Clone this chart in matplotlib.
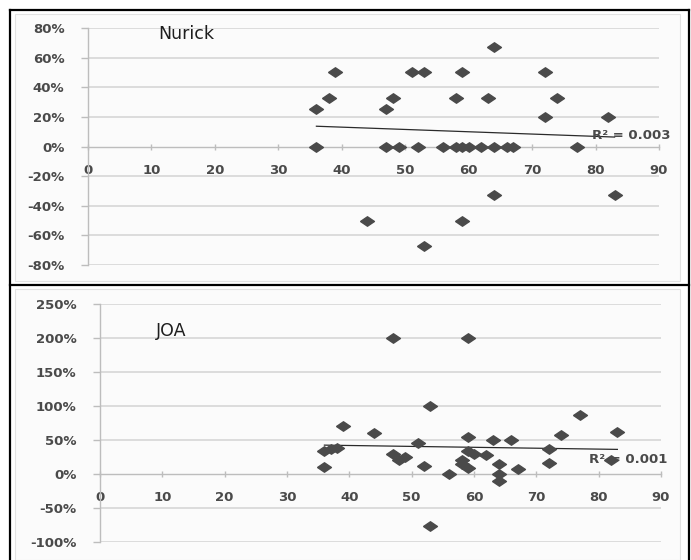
import numpy as np
import matplotlib
matplotlib.use("Agg")
import matplotlib.pyplot as plt
from matplotlib.lines import Line2D
from matplotlib.patches import Rectangle

# ---- data ----
nurick_x = [36, 38, 39, 36, 47, 48, 51, 53, 59, 58, 63, 64, 72, 72, 74, 82,
            47, 49, 52, 56, 58, 59, 60, 62, 64, 66, 67, 77,
            64, 83, 44, 59, 53]
nurick_y = [25, 33, 50, 0, 25, 33, 50, 50, 50, 33, 33, 67, 50, 20, 33, 20,
            0, 0, 0, 0, 0, 0, 0, 0, 0, 0, 0, 0,
            -33, -33, -50, -50, -67]
joa_x = [47, 59, 53, 39, 44, 77, 83, 74, 59, 63, 66, 51,
         36, 37, 38, 36, 47, 48, 49, 52, 56, 58, 58, 59,
         59, 60, 62, 64, 64, 64, 67, 72, 72, 82, 53]
joa_y = [200, 200, 100, 71, 60, 86, 62, 57, 54, 50, 50, 45,
         33, 37, 38, 10, 29, 20, 25, 11, 0, 20, 14, 8,
         33, 29, 27, 15, 0, -10, 7, 37, 16, 20, -77]
nurick_yticks = [-80, -60, -40, -20, 0, 20, 40, 60, 80]
joa_yticks = [-100, -50, 0, 50, 100, 150, 200, 250]
xticks = [0, 10, 20, 30, 40, 50, 60, 70, 80, 90]
nurick_r2 = "R² = 0.003"
joa_r2 = "R² = 0.001"

W, H = 691, 560
fig = plt.figure(figsize=(W / 100, H / 100), dpi=100)
fig.patch.set_facecolor("white")

txt = "#4a4a4a"
grid = "#d6d6d6"
axc = "#bdbdbd"
mk = "#4a4a4a"
diamond = [(-1, 0), (0, 0.68), (1, 0), (0, -0.68), (-1, 0)]

# background panels and borders
for (y0, y1) in [(14, 281), (289, 560)]:
    fig.add_artist(Rectangle((15 / W, 1 - y1 / H), 665 / W, (y1 - y0) / H,
                             transform=fig.transFigure, facecolor="#fbfbfb",
                             edgecolor="#e2e2e2", lw=0.8, zorder=0))
for xs, ys in [([10, 10], [10, 560]), ([689, 689], [10, 560]),
               ([10, 689], [10, 10]), ([10, 689], [285, 285])]:
    fig.add_artist(Line2D([x / W for x in xs], [1 - y / H for y in ys],
                          transform=fig.transFigure, color="black", lw=1.6, zorder=5))


def make_panel(rect, xs, ys, yticks, ylim, title, title_xy, r2, r2_xy):
    ax = fig.add_axes(rect)
    ax.set_facecolor("none")
    ax.set_xlim(0, 90)
    ax.set_ylim(*ylim)
    for s in ["top", "right"]:
        ax.spines[s].set_visible(False)
    ax.spines["left"].set_color(axc)
    ax.spines["left"].set_linewidth(1.0)
    ax.spines["bottom"].set_position(("data", 0))
    ax.spines["bottom"].set_color(axc)
    ax.spines["bottom"].set_linewidth(1.0)
    ax.set_yticks(yticks)
    ax.set_yticklabels([f"{v}%" for v in yticks], fontweight="bold")
    ax.set_xticks(xticks)
    ax.set_xticklabels([str(v) for v in xticks], fontweight="bold")
    ax.tick_params(axis="y", length=5, width=1, color=axc, pad=12,
                   labelsize=9.5, labelcolor=txt)
    ax.tick_params(axis="x", direction="inout", length=5, width=1, color=axc,
                   pad=10, labelsize=9.5, labelcolor=txt)
    for v in yticks:
        if v != 0:
            ax.axhline(v, color=grid, lw=1.2, zorder=0)
    ax.plot(xs, ys, linestyle="none", marker=diamond, markersize=10,
            markerfacecolor=mk, markeredgecolor=mk, zorder=3, clip_on=False)
    # linear trend
    c = np.polyfit(xs, ys, 1)
    tx = np.array([min(xs), max(xs)])
    ax.plot(tx, np.polyval(c, tx), color="#2a2a2a", lw=0.9, zorder=2)
    ax.text(title_xy[0], title_xy[1], title, fontsize=12.5, color="#1e1e1e",
            ha="left", va="center")
    ax.text(r2_xy[0], r2_xy[1], r2, fontsize=9.5, color=txt, fontweight="bold",
            ha="left", va="center", zorder=4)
    return ax


make_panel([88 / W, 1 - 265 / H, 571 / W, 237 / H], nurick_x, nurick_y,
           nurick_yticks, (-80, 80), "Nurick", (11, 76), nurick_r2, (79.5, 7.5))
make_panel([100 / W, 1 - 541.7 / H, 561 / W, 237.7 / H], joa_x, joa_y,
           joa_yticks, (-100, 250), "JOA", (9, 210), joa_r2, (78.5, 20.5))

fig.savefig("out.png", dpi=100)
